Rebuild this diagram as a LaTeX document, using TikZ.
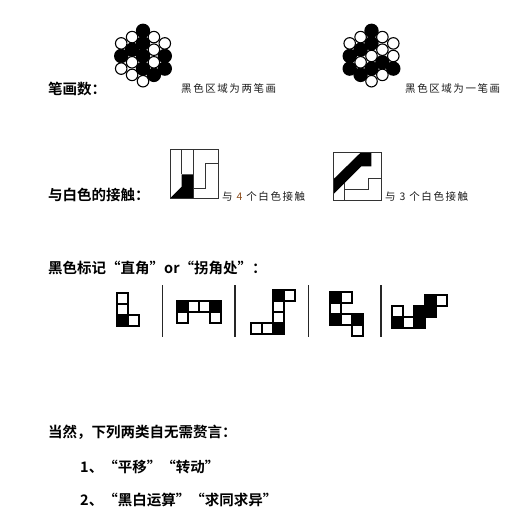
\documentclass[tikz,border=0pt]{standalone}
\usepackage{fontspec}
\newfontfamily\hei{Noto Sans CJK SC Bold}
\newfontfamily\song[LetterSpace=15]{Noto Sans CJK SC}
\usepackage{xcolor}
\usepackage{tikz}
\usetikzlibrary{positioning}
\definecolor{notegray}{HTML}{1A1A1A}
\definecolor{numbrown}{HTML}{8A4B1A}
\tikzset{
  % stroke-count circles
  hex-black/.style={circle, fill=black, minimum size=14.4pt, inner sep=0pt},
  hex-white/.style={circle, fill=white, draw=black, line width=1.1pt, minimum size=11.5pt, inner sep=0pt},
  % contact boxes
  box-line/.style={draw=black!80, line width=0.8pt},
  % corner marks
  cell-black/.style={rectangle, fill=black, draw=black, line width=1.6pt, minimum size=11pt, inner sep=0pt},
  cell-white/.style={rectangle, fill=white, draw=black, line width=1.6pt, minimum size=11pt, inner sep=0pt},
  sep-line/.style={draw=black!85, line width=1.4pt},
  % texts
  head-text/.style={font=\hei\fontsize{14.5}{16}\selectfont, anchor=west, inner sep=0pt},
  note-text/.style={font=\song\fontsize{10.5}{12}\selectfont, text=notegray, anchor=west, inner sep=0pt}
}
\begin{document}
\begin{tikzpicture}[x=1pt, y=-1pt]
    \useasboundingbox (0,0) rectangle (522,527);
    % --- Stroke count ---
    \node[head-text] (strokes) at (48,89) {笔画数：};
    % left cluster
    \foreach \c/\r [count=\n] in {0/2, 0/1, 0/0, 0/-1, -1/0.5, -2/0, 2/0, 2/-1, 1/-1.5}
        \node[hex-black] (lb\n) at ({143+\c*10.9},{56-(\r)*12.6}) {};
    \foreach \c/\r [count=\n] in {-2/1, -1/1.5, 1/1.5, 2/1, 1/0.5, -1/-0.5, 1/-0.5, -2/-1, -1/-1.5, 0/-2}
        \node[hex-white] (lw\n) at ({143+\c*10.9},{56-(\r)*12.6}) {};
    \node[note-text] (strokes-two) at (181,89) {黑色区域为两笔画};
    % right cluster
    \foreach \c/\r [count=\n] in {0/2, 0/1, -1/0.5, -2/0, -2/-1, -1/-1.5, 0/-1, 1/-0.5, 2/-1}
        \node[hex-black] (rb\n) at ({371.5+\c*10.9},{56-(\r)*12.6}) {};
    \foreach \c/\r [count=\n] in {-2/1, -1/1.5, 1/1.5, 2/1, 1/0.5, 2/0, 0/0, -1/-0.5, 1/-1.5, 0/-2}
        \node[hex-white] (rw\n) at ({371.5+\c*10.9},{56-(\r)*12.6}) {};
    \node[note-text] (strokes-one) at (405,89) {黑色区域为一笔画};

    % --- Contact with white ---
    \node[head-text] (contact) at (48,195) {与白色的接触：};
    % left box
    \fill (181.7,174.3) -- (193.3,174.3) -- (193.3,198.5) -- (170,198.5) -- (181.7,186.7) -- cycle;
    \draw[box-line] (170,149.5) rectangle (218.5,198.5);
    \draw[box-line] (181.7,149.5) -- (181.7,174.3);
    \draw[box-line] (193.3,149.5) -- (193.3,198.5);
    \draw[box-line] (193.3,188.3) -- (205,188.3) -- (205,163.3) -- (218.5,163.3);
    \node[note-text] (contact-four) at (222,196) {与 {\color{numbrown}4} 个白色接触};
    % right box
    \fill (333,179.7) -- (361.3,152) -- (371.3,152) -- (371.3,166.3) -- (361.3,166.3) -- (333,194.7) -- cycle;
    \draw[box-line] (333,152) rectangle (381.3,200.3);
    \draw[box-line] (344.7,183) -- (344.7,200.3);
    \draw[box-line] (344.7,189.7) -- (368.7,189.7) -- (368.7,178.7) -- (381.3,178.7);
    \node[note-text] (contact-three) at (385,196) {与 3 个白色接触};

    % --- Corner marks ---
    \node[head-text] (corner) at (48,268) {黑色标记“直角”or“拐角处”：};
    \foreach \c/\r/\s [count=\n] in {0/0/white, 0/1/white, 0/2/black, 1/2/white}
        \node[cell-\s] (ma\n) at ({122.2+11*\c},{298.2+11*\r}) {};
    \foreach \c/\r/\s [count=\n] in {0/0/black, 1/0/white, 2/0/white, 3/0/black, 0/1/white, 3/1/white}
        \node[cell-\s] (mb\n) at ({182.2+11*\c},{306.5+11*\r}) {};
    \foreach \c/\r/\s [count=\n] in {2/0/black, 3/0/white, 2/1/white, 2/2/white, 0/3/white, 1/3/white, 2/3/black}
        \node[cell-\s] (mc\n) at ({256.2+11*\c},{295.5+11*\r}) {};
    \foreach \c/\r/\s [count=\n] in {0/0/black, 1/0/white, 0/1/white, 0/2/black, 1/2/white, 2/2/black, 2/3/white}
        \node[cell-\s] (md\n) at ({335.5+11*\c},{297.2+11*\r}) {};
    \foreach \c/\r/\s [count=\n] in {3/0/black, 4/0/white, 0/1/white, 2/1/black, 3/1/black, 0/2/black, 1/2/white, 2/2/black}
        \node[cell-\s] (me\n) at ({397.2+11*\c},{300.5+11*\r}) {};
    \foreach \x in {162.7, 235, 308.3, 381}
        \draw[sep-line] (\x,285) -- (\x,337);

    % --- Needless to say ---
    \node[head-text] (needless) at (48,432) {当然，下列两类自无需赘言：};
    \node[head-text] (item-one) at (80,467) {1、“平移”“转动”};
    \node[head-text] (item-two) at (80,500) {2、“黑白运算”“求同求异”};
\end{tikzpicture}
\end{document}
